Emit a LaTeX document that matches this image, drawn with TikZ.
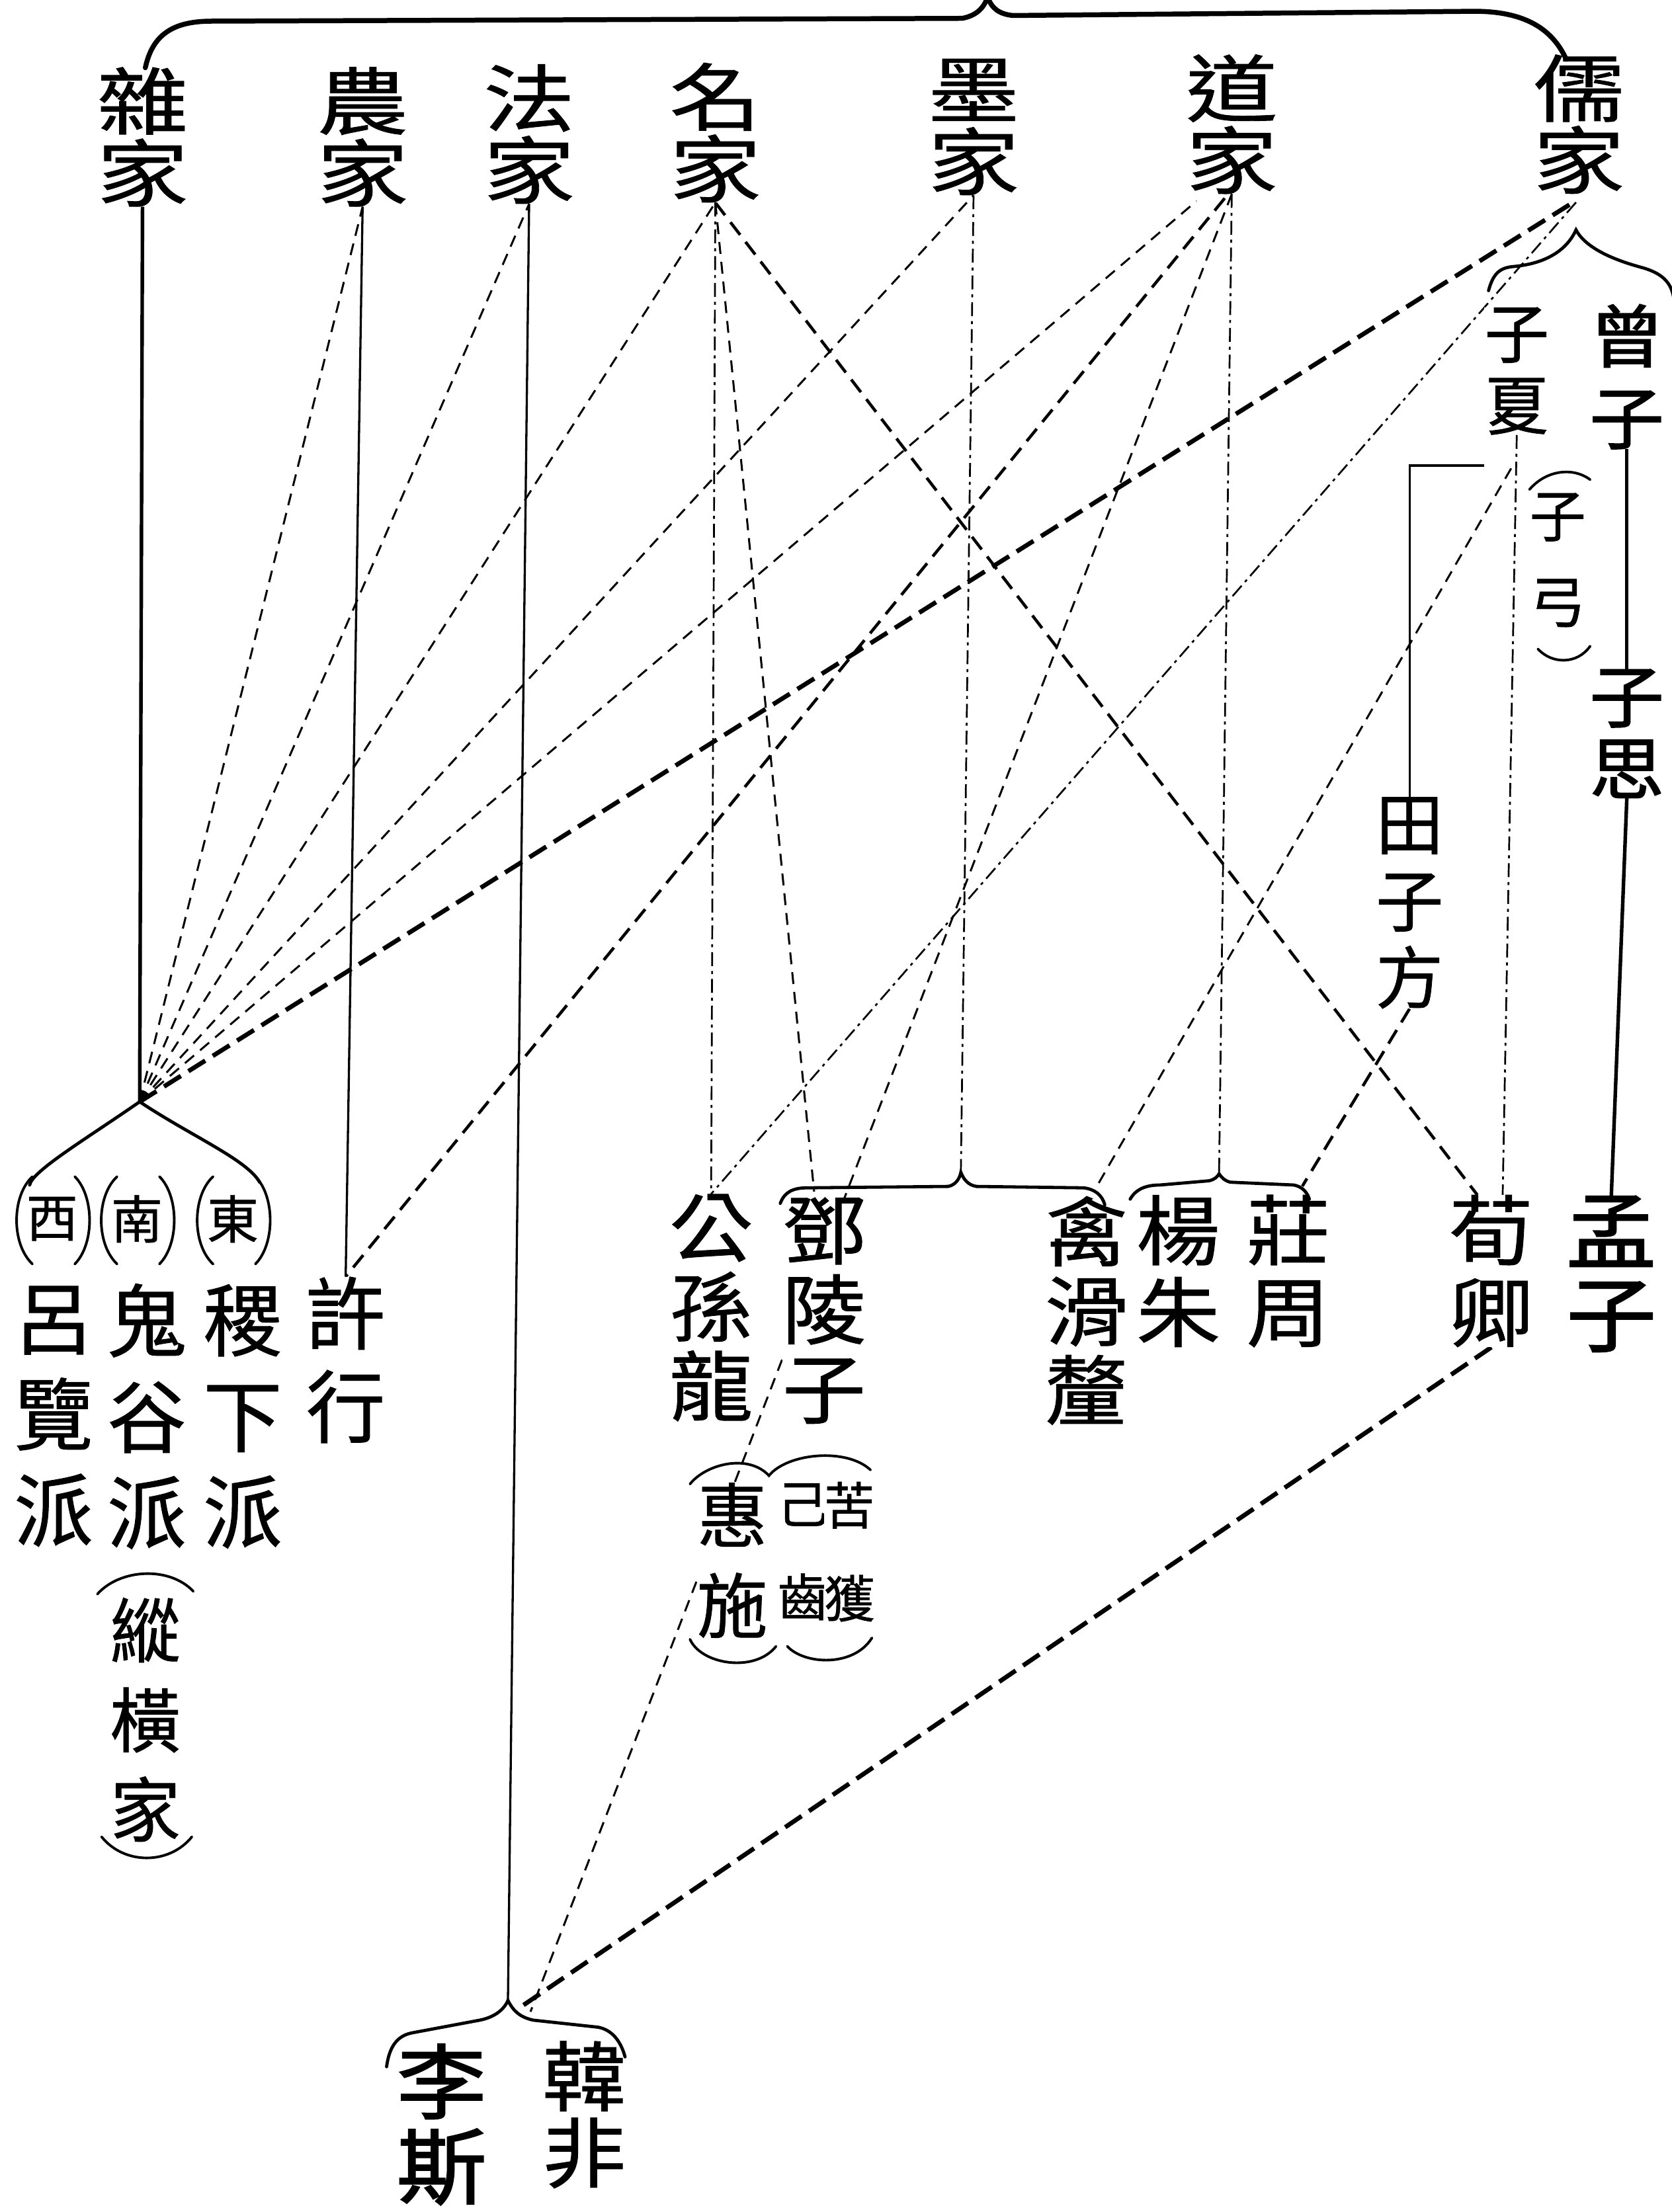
\documentclass[tikz,border=0pt]{standalone}
\usepackage{fontspec}
\newfontfamily\cjkw[FakeStretch=1.25,FakeBold=0.8]{Noto Sans CJK TC}
\newfontfamily\cjkm[FakeStretch=1.1,FakeBold=0.8]{Noto Sans CJK TC}
\newfontfamily\cjk[FakeBold=0.8]{Noto Sans CJK TC}
\newfontfamily\cjkb[FakeBold=1.8,FakeStretch=1.1]{Noto Sans CJK TC}
\usetikzlibrary{backgrounds,calc}
\newcommand\mkfs[2]{\fontsize{#1}{#2}\selectfont\lineskiplimit=-1000pt\relax}
\tikzset{
  lab/.style={inner sep=0pt, align=center, fill=white},
  toplab/.style={lab, font=\cjkw\mkfs{74pt}{72.6pt}},
  smlab/.style={lab, font=\cjk\mkfs{52pt}{52pt}},
  rowlab/.style={lab, font=\cjk\mkfs{79.7pt}{96.7pt}},
  xulab/.style={lab, font=\cjk\mkfs{79.7pt}{93.9pt}},
  zonglab/.style={lab, font=\cjk\mkfs{71pt}{90.3pt}},
  botlab/.style={lab, font=\cjkm\mkfs{76.8pt}{80pt}},
  twolab/.style={lab, font=\cjkm\mkfs{76.8pt}{82.5pt}},
  menglab/.style={lab, font=\cjkb\mkfs{82.5pt}{83.9pt}},
  huilab/.style={lab, font=\cjk\mkfs{71.1pt}{91pt}},
  tinylab/.style={lab, font=\cjk\mkfs{51.2pt}{93.9pt}},
  lisilab/.style={lab, font=\cjkb\mkfs{82.5pt}{85.4pt}},
  hanlab/.style={lab, font=\cjkm\mkfs{76.8pt}{76.8pt}},
  rlab/.style={lab, font=\cjkb\mkfs{68.3pt}{82.5pt}},
  rlabb/.style={lab, font=\cjkb\mkfs{68.3pt}{72.6pt}},
  xialab/.style={lab, font=\cjk\mkfs{65.4pt}{72.6pt}},
  zglab/.style={lab, font=\cjk\mkfs{56.9pt}{86.8pt}},
  tianlab/.style={lab, font=\cjk\mkfs{68.3pt}{77.5pt}},
  solidthin/.style={line width=2.2pt},
  solidthick/.style={line width=3.6pt},
  dashdot/.style={line width=1.8pt, dash pattern=on 14pt off 5pt on 3pt off 5pt},
  thindash/.style={line width=2pt, dash pattern=on 12pt off 8pt},
  meddash/.style={line width=3pt, dash pattern=on 16pt off 9pt},
  heavydash/.style={line width=4.5pt, dash pattern=on 20pt off 9pt},
  brc/.style={line width=3.2pt, line cap=round},
  topbrc/.style={line width=5pt, line cap=round},
  paren/.style={line width=2.6pt, line cap=round}
}
\begin{document}
\begin{tikzpicture}[x=0.05cm, y=-0.05cm]
\useasboundingbox (0,0) rectangle (1185,1568);

% ---------- named points ----------
\coordinate (hub) at (99,781);
\coordinate (lhpk) at (360,1418);
\coordinate (mopk) at (681,831);
\coordinate (daopk) at (864,832);
\coordinate (rupk) at (1117,163);
\coordinate (tzbr) at (1052,330);
\coordinate (zxj) at (1071,332);

% ---------- top schools ----------
\node[toplab] (zajia) at (101,97) {雜\\家};
\node[toplab] (nongjia) at (257,97) {農\\家};
\node[toplab] (fajia) at (375,95) {法\\家};
\node[toplab] (mingjia) at (507,94) {名\\家};
\node[toplab] (mojia) at (690,90) {墨\\家};
\node[toplab] (daojia) at (873,88) {道\\家};
\node[toplab] (rujia) at (1119,88) {儒\\家};

% ---------- left group ----------
\node[smlab] (xi) at (37,864) {西};
\node[smlab] (nan) at (97,864) {南};
\node[smlab] (dong) at (165,864) {東};
\node[rowlab] (lvlan) at (38,1004) {呂\\覽\\派};
\node[rowlab] (guigu) at (104,1004) {鬼\\谷\\派};
\node[rowlab] (jixia) at (172,1004) {稷\\下\\派};
\node[xulab] (xuxing) at (245,964) {許\\行};
\node[zonglab] (zongheng) at (103,1219) {縱\\橫\\家};

% ---------- centre group ----------
\node[botlab] (gongsun) at (504,927) {公\\孫\\龍};
\node[botlab] (dengling) at (584,929) {鄧\\陵\\子};
\node[botlab] (qinhua) at (770,929) {禽\\滑\\釐};
\node[twolab] (yangzhu) at (835,901) {楊\\朱};
\node[twolab] (zhuangzhou) at (913,901) {莊\\周};
\node[twolab] (xunqing) at (1057,901) {荀\\卿};
\node[menglab] (mengzi) at (1142,903) {孟\\子};
\node[huilab] (huishi) at (519,1106) {惠\\施};
\node[tinylab] (jichi) at (569,1100) {己\\齒};
\node[tinylab] (kuhuo) at (602,1100) {苦\\獲};
\node[lisilab] (lisi) at (313,1506) {李\\斯};
\node[hanlab] (hanfei) at (414,1499) {韓\\非};

% ---------- right group ----------
\node[rlab] (zengzi) at (1153,267) {曾\\子};
\node[rlabb] (zisi) at (1153,520) {子\\思};
\node[xialab] (zixia) at (1075,263) {子\\夏};
\node[zglab] (zigong) at (1104,397) {子\\弓};
\node[tianlab] (tianzifang) at (999,640) {田\\子\\方};

% ---------- connectors ----------
\begin{scope}[on background layer]
\fill[white] (0,0) rectangle (1185,1568);
% verticals
\draw[solidthick] (zajia.south) -- (hub);
\draw[solidthin] (nongjia.south) -- (xuxing.north);
\draw[solidthin] (fajia.south) -- (lhpk);
\draw[dashdot] (mingjia.south) -- (gongsun.north);
\draw[dashdot] (mojia.south) -- (mopk);
\draw[dashdot] (daojia.south) -- (daopk);
\draw[dashdot] (zixia.south) -- ($(xunqing.north)+(8,0)$);
% fan into the 雜家 hub
\draw[thindash] (hub) -- (nongjia.south);
\draw[thindash] (hub) -- (fajia.south);
\draw[thindash] (hub) -- (mingjia.south);
\draw[thindash] (hub) -- (mojia.south);
\draw[thindash] (hub) -- ($(daojia.south)+(-25,5)$);
\draw[heavydash] (hub) -- ($(rujia.south)+(-4,6)$);
% other links
\draw[meddash] ($(daojia.south)+(-5,3)$) -- (xuxing.north);
\draw[thindash] (daojia.south) -- ($(lhpk)+(16,8)$);
\draw[thindash] (mingjia.south) -- ($(dengling.north)+(-7,-4)$);
\draw[meddash] (mingjia.south) -- ($(xunqing.north)+(-10,0)$);
\draw[dashdot] ($(rujia.south)+(-2,6)$) -- (gongsun.north);
\draw[thindash] (zxj) -- ($(qinhua.north)+(8,-8)$);
\draw[meddash] (tianzifang.south) -- ($(zhuangzhou.north)+(10,-6)$);
\draw[heavydash] (xunqing.south) -- ($(lhpk)+(10,4)$);
\draw[solidthin] (tzbr) -| (tianzifang.north);
\draw[solidthick] (zengzi.south) -- (zisi.north);
\draw[solidthick] (zisi.south) -- (mengzi.north);
\end{scope}

% ---------- braces ----------
\draw[topbrc] (103,48) .. controls (108,25) and (122,15) .. (150,15) -- (682,13)
  .. controls (692,11) and (697,6) .. (700,-2) .. controls (703,6) and (708,10) .. (718,11)
  -- (1045,8) .. controls (1080,8) and (1100,20) .. (1110,42);
\draw[brc] (1055,206) .. controls (1058,195) and (1062,190) .. (1072,189)
  .. controls (1095,187) and (1110,178) .. (rupk)
  .. controls (1125,178) and (1150,186) .. (1165,190)
  .. controls (1178,194) and (1184,200) .. (1186,210);
\draw[brc] (21,840) .. controls (23,830) and (60,808) .. (hub)
  .. controls (135,805) and (175,822) .. (184,838);
\draw[brc] (553,853) .. controls (556,845) and (562,842) .. (572,842) -- (672,841)
  .. controls (677,840) and (680,836) .. (mopk) .. controls (683,836) and (686,840) .. (692,841)
  -- (768,842) .. controls (776,843) and (781,847) .. (783,854);
\draw[brc] (801,850) .. controls (805,843) and (812,840) .. (822,840) -- (857,837)
  .. controls (861,836) and (863,834) .. (daopk) .. controls (866,835) and (868,837) .. (872,838)
  -- (917,840) .. controls (922,841) and (926,844) .. (928,850);
\draw[brc] (274,1465) .. controls (276,1450) and (282,1443) .. (292,1441) -- (340,1432)
  .. controls (350,1430) and (357,1425) .. (lhpk) .. controls (364,1426) and (369,1430) .. (378,1432)
  -- (424,1437) .. controls (434,1439) and (440,1447) .. (443,1458);

% ---------- parentheses ----------
\foreach \cx in {37,97,165}{
  \draw[paren] (\cx-14,834) .. controls (\cx-29,848) and (\cx-29,882) .. (\cx-14,896);
  \draw[paren] (\cx+16,834) .. controls (\cx+30,848) and (\cx+30,882) .. (\cx+16,896);
}
\draw[paren] (69,1130) .. controls (85,1112) and (120,1110) .. (137,1128);
\draw[paren] (72,1302) .. controls (88,1322) and (120,1322) .. (136,1302);
\draw[paren] (489,1052) .. controls (500,1038) and (530,1030) .. (545,1046)
  .. controls (558,1030) and (600,1026) .. (617,1042);
\draw[paren] (489,1162) .. controls (497,1180) and (535,1186) .. (550,1167);
\draw[paren] (558,1167) .. controls (570,1180) and (605,1182) .. (618,1161);
\draw[paren] (1084,347) .. controls (1096,333) and (1115,331) .. (1127,340);
\draw[paren] (1090,460) .. controls (1100,471) and (1118,471) .. (1127,458);
\end{tikzpicture}
\end{document}
